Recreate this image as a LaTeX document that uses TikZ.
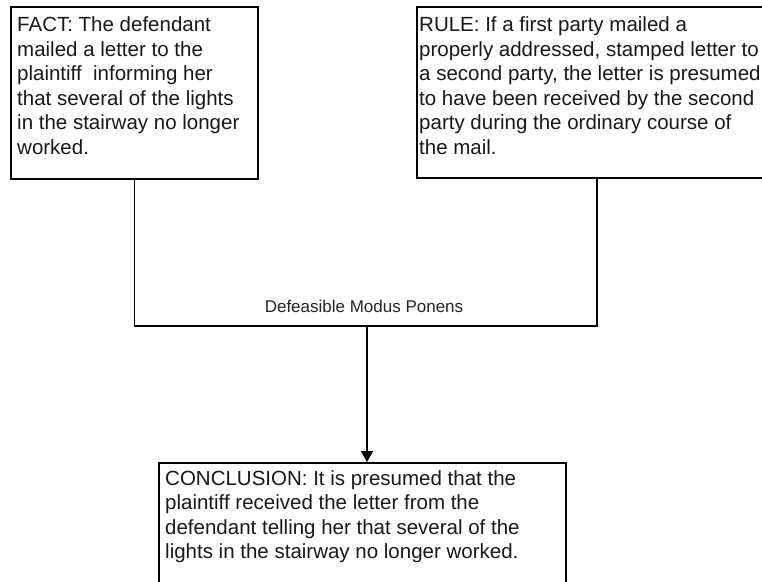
\documentclass[tikz,border=0pt]{standalone}
\usepackage{fontspec}
\setmainfont{Liberation Sans}
\usetikzlibrary{arrows.meta}
\tikzset{
  box/.style={draw=black, line width=1.8bp, fill=white, inner sep=0pt, anchor=north west},
  txt/.style={inner sep=0pt, anchor=base west, text=black!90, font=\fontsize{20.5bp}{24.5bp}\selectfont},
  lbl/.style={inner sep=0pt, anchor=base, text=black!85, font=\fontsize{17bp}{20bp}\selectfont},
  conn/.style={draw=black, line width=1.5bp},
  arr/.style={conn, -{Triangle[length=11bp,width=12bp]}}
}
\begin{document}
\begin{tikzpicture}[x=1bp,y=-1bp]
\useasboundingbox (0,0) rectangle (762,582);
\clip (0,0) rectangle (762,582);
\fill[white] (0,0) rectangle (762,582);
% boxes
\node[box, minimum width=247bp, minimum height=172bp] (fact) at (10,6) {};
\node[box, minimum width=360bp, minimum height=171bp] (rule) at (416,6) {};
\node[box, minimum width=407bp, minimum height=140bp] (concl) at (158,462) {};
% texts
\node[txt] (facttxt) at (17,31.7) {\vtop{\hbox{FACT: The defendant}\hbox{mailed a letter to the}\hbox{plaintiff\ \ informing her}\hbox{that several of the lights}\hbox{in the stairway no longer}\hbox{worked.}}};
\node[txt] (ruletxt) at (419,31.7) {\vtop{\hbox{RULE: If a first party mailed a}\hbox{properly addressed, stamped letter to}\hbox{a second party, the letter is presumed}\hbox{to have been received by the second}\hbox{party during the ordinary course of}\hbox{the mail.}}};
\node[txt] (concltxt) at (165,485) {\vtop{\hbox{CONCLUSION: It is presumed that the}\hbox{plaintiff received the letter from the}\hbox{defendant telling her that several of the}\hbox{lights in the stairway no longer worked.}}};
% connectors
\coordinate (mp) at (367,326);
\draw[conn] (fact.south) |- (mp) -| (rule.south);
\draw[arr] (mp) -- (concl.north -| mp);
\node[lbl] (dmp) at (364,312) {Defeasible Modus Ponens};
\end{tikzpicture}
\end{document}
